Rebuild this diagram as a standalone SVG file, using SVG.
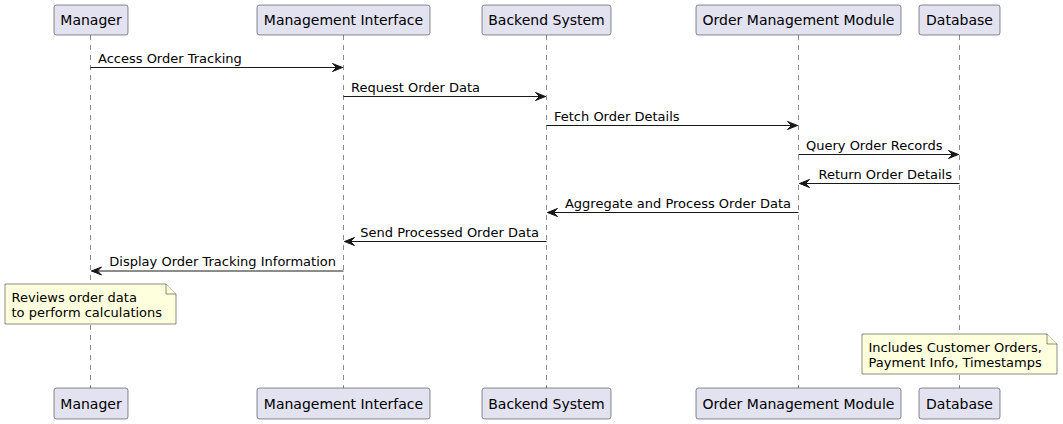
<svg xmlns="http://www.w3.org/2000/svg" width="1063" height="424" viewBox="0 0 1063 424">
<defs>
<style>
.life{stroke:#181818;stroke-width:0.5;stroke-dasharray:5,5;fill:none}
.box{fill:#E2E2F0;stroke:#181818;stroke-width:0.5}
.ptxt{font-family:"DejaVu Sans",sans-serif;font-size:14px;fill:#000;text-anchor:middle}
.msg{stroke:#181818;stroke-width:1;fill:none}
.mtxt{font-family:"DejaVu Sans",sans-serif;font-size:13px;fill:#000}
.note{fill:#FEFFDD;stroke:#181818;stroke-width:0.5}
.ntxt{font-family:"DejaVu Sans",sans-serif;font-size:13px;fill:#000}
</style>
<marker id="ah" markerWidth="14" markerHeight="12" refX="11" refY="5" orient="auto-start-reverse" markerUnits="userSpaceOnUse">
<polygon points="1,1 11,5 1,9 5,5" fill="#181818" stroke="#181818" stroke-width="1" stroke-linejoin="miter"/>
</marker>
</defs>
<rect width="1063" height="424" fill="#FFFFFF"/>
<g id="lifelines">
<line class="life" x1="90.5" y1="35" x2="90.5" y2="388"/>
<line class="life" x1="343.5" y1="35" x2="343.5" y2="388"/>
<line class="life" x1="546.5" y1="35" x2="546.5" y2="388"/>
<line class="life" x1="798.5" y1="35" x2="798.5" y2="388"/>
<line class="life" x1="959.5" y1="35" x2="959.5" y2="388"/>
</g>
<g id="manager">
<rect class="box" x="54" y="5" width="74" height="30" rx="2.5"/>
<text class="ptxt" x="91" y="25">Manager</text>
<rect class="box" x="54" y="388" width="74" height="31" rx="2.5"/>
<text class="ptxt" x="91" y="408.5">Manager</text>
</g>
<g id="management-interface">
<rect class="box" x="257" y="5" width="173" height="30" rx="2.5"/>
<text class="ptxt" x="343.5" y="25">Management Interface</text>
<rect class="box" x="257" y="388" width="173" height="31" rx="2.5"/>
<text class="ptxt" x="343.5" y="408.5">Management Interface</text>
</g>
<g id="backend-system">
<rect class="box" x="482" y="5" width="129" height="30" rx="2.5"/>
<text class="ptxt" x="546.5" y="25">Backend System</text>
<rect class="box" x="482" y="388" width="129" height="31" rx="2.5"/>
<text class="ptxt" x="546.5" y="408.5">Backend System</text>
</g>
<g id="order-management-module">
<rect class="box" x="696" y="5" width="205" height="30" rx="2.5"/>
<text class="ptxt" x="798.5" y="25">Order Management Module</text>
<rect class="box" x="696" y="388" width="205" height="31" rx="2.5"/>
<text class="ptxt" x="798.5" y="408.5">Order Management Module</text>
</g>
<g id="database">
<rect class="box" x="919" y="5" width="81" height="30" rx="2.5"/>
<text class="ptxt" x="959.5" y="25">Database</text>
<rect class="box" x="919" y="388" width="81" height="31" rx="2.5"/>
<text class="ptxt" x="959.5" y="408.5">Database</text>
</g>
<g id="connectors">
<line class="msg" x1="90.5" y1="67.5" x2="342.5" y2="67.5" marker-end="url(#ah)"/>
<text class="mtxt" x="98" y="62.5">Access Order Tracking</text>
<line class="msg" x1="343.5" y1="96.5" x2="545.5" y2="96.5" marker-end="url(#ah)"/>
<text class="mtxt" x="351" y="91.5">Request Order Data</text>
<line class="msg" x1="546.5" y1="125.5" x2="797.5" y2="125.5" marker-end="url(#ah)"/>
<text class="mtxt" x="554" y="120.5">Fetch Order Details</text>
<line class="msg" x1="798.5" y1="154.5" x2="958.5" y2="154.5" marker-end="url(#ah)"/>
<text class="mtxt" x="806" y="149.5">Query Order Records</text>
<line class="msg" x1="959.5" y1="183.5" x2="799.5" y2="183.5" marker-end="url(#ah)"/>
<text class="mtxt" x="952" y="178.5" text-anchor="end">Return Order Details</text>
<line class="msg" x1="798.5" y1="212.5" x2="547.5" y2="212.5" marker-end="url(#ah)"/>
<text class="mtxt" x="791" y="207.5" text-anchor="end">Aggregate and Process Order Data</text>
<line class="msg" x1="546.5" y1="241.5" x2="344.5" y2="241.5" marker-end="url(#ah)"/>
<text class="mtxt" x="539" y="236.5" text-anchor="end">Send Processed Order Data</text>
<line class="msg" x1="343.5" y1="271" x2="91.5" y2="271" marker-end="url(#ah)"/>
<text class="mtxt" x="336" y="266" text-anchor="end">Display Order Tracking Information</text>
</g>
<g id="note-manager">
<path class="note" d="M5,284 L166,284 L176,294 L176,324 L5,324 Z"/>
<path class="note" d="M166,284 L166,294 L176,294"/>
<text class="ntxt" x="11.5" y="301.5">Reviews order data</text>
<text class="ntxt" x="11.5" y="316.5">to perform calculations</text>
</g>
<g id="note-database">
<path class="note" d="M862,334 L1047,334 L1057,344 L1057,374 L862,374 Z"/>
<path class="note" d="M1047,334 L1047,344 L1057,344"/>
<text class="ntxt" x="868.5" y="351.5">Includes Customer Orders,</text>
<text class="ntxt" x="868.5" y="366.5">Payment Info, Timestamps</text>
</g>
</svg>
